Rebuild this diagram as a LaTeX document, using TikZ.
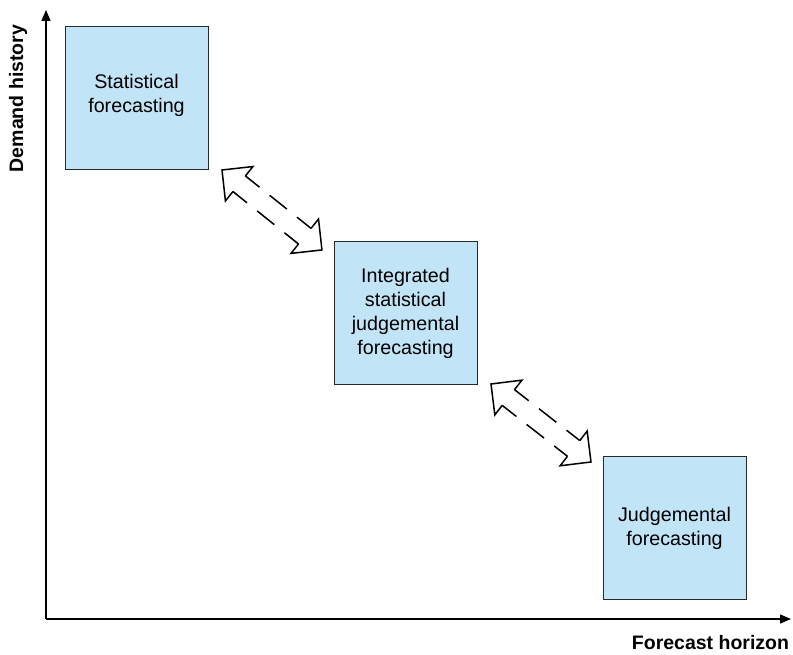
\documentclass[tikz,border=0pt]{standalone}
\usepackage{fontspec}
\setmainfont{Liberation Sans}
\usetikzlibrary{arrows.meta}

\definecolor{boxfill}{RGB}{194,228,247}
\definecolor{boxline}{RGB}{40,40,40}

% hollow two-headed arrow with a dashed shaft, drawn from #1 at angle #2 over length #3
\newcommand\hollowtwoway[3]{%
  \begin{scope}[shift={(#1)}, rotate=#2, line width=1.5pt, line join=miter, miter limit=10]
    \pgfmathsetmacro\arrlen{#3}
    \pgfmathsetmacro\hl{22}
    \pgfmathsetmacro\hw{22}
    \pgfmathsetmacro\sw{10}
    \pgfmathsetmacro\bk{\arrlen-\hl}
    \draw (\hl,\sw) -- (\hl,\hw) -- (0,0) -- (\hl,-\hw) -- (\hl,-\sw);
    \draw (\bk,\sw) -- (\bk,\hw) -- (\arrlen,0) -- (\bk,-\hw) -- (\bk,-\sw);
    \draw[dash pattern=on 22pt off 13pt, dash phase=4pt] (\hl,\sw) -- (\bk,\sw);
    \draw[dash pattern=on 22pt off 13pt, dash phase=4pt] (\hl,-\sw) -- (\bk,-\sw);
  \end{scope}}

% extra depth below the last line lifts a box's text slightly
\newcommand\liftstrut{\rule[-10pt]{0pt}{1pt}}

\tikzset{
  box/.style={draw=boxline, fill=boxfill, line width=1pt, minimum width=143pt,
    minimum height=143pt, inner sep=0pt, align=center,
    font=\fontsize{19.7}{24}\selectfont},
  axisline/.style={line width=1.3pt, -{Triangle[length=11pt,width=9pt]}},
  axislabel/.style={font=\fontsize{19.5}{24}\selectfont\bfseries, inner sep=0pt},
}

\begin{document}
\begin{tikzpicture}[x=1pt, y=1pt]
  \useasboundingbox (0,0) rectangle (793,655);

  % axes
  \coordinate (origin) at (46,36);
  \coordinate (ytop) at (46,645);
  \coordinate (xend) at (791,36);
  \draw[axisline] (origin) -- (ytop);
  \draw[axisline] (origin) -- (xend);
  \node[axislabel, rotate=90] (ylab) at (18,556.5) {Demand history};
  \node[axislabel] (xlab) at (710.5,12) {Forecast horizon};

  % forecasting approaches
  \node[box] (stat) at (136.5,556.5) {Statistical\\forecasting\liftstrut};
  \node[box] (integ) at (405.5,341.5) {Integrated\\statistical\\judgemental\\forecasting};
  \node[box] (judg) at (674.5,126.5) {Judgemental\\forecasting};

  % two-way transitions between neighbouring approaches
  \coordinate (t1) at (222,485);
  \coordinate (t2) at (491,271);
  \hollowtwoway{t1}{-38.66}{128}
  \hollowtwoway{t2}{-37.95}{126.8}
\end{tikzpicture}
\end{document}
